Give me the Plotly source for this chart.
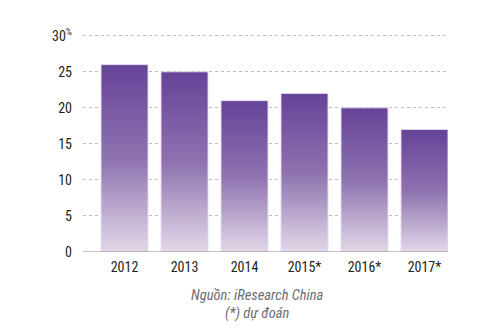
import plotly.graph_objects as go

years = ["2012", "2013", "2014", "2015*", "2016*", "2017*"]
values = [26, 25, 21, 22, 20, 17]
y_ticks = [0, 5, 10, 15, 20, 25, 30]
y_ticktext = ["0", "5", "10", "15", "20", "25", "30<sup>%</sup>"]

BAR_W = 0.783
TOP = "#654398"
BOTTOM = "#e2d8e8"
FONT = "Liberation Sans Narrow, Roboto Condensed, Arial Narrow, Roboto, sans-serif"

fig = go.Figure()
for i, v in enumerate(values):
    x0, x1 = i - BAR_W / 2, i + BAR_W / 2
    fig.add_trace(go.Scatter(
        x=[x0, x1, x1, x0, x0],
        y=[0, 0, v, v, 0],
        mode="lines",
        fill="toself",
        fillgradient=dict(type="vertical", colorscale=[[0, BOTTOM], [0.5, "#8e72b0"], [1, TOP]]),
        line=dict(color="rgba(230,220,238,0.9)", width=1),
        hoverinfo="skip",
        showlegend=False,
    ))

fig.update_layout(
    width=500, height=330,
    margin=dict(l=83, r=52, t=34, b=78),
    paper_bgcolor="white", plot_bgcolor="white",
    font=dict(family=FONT, size=14, color="#231f20"),
    xaxis=dict(
        range=[-0.692, 5.392],
        tickvals=list(range(len(years))), ticktext=years,
        showgrid=False, zeroline=False, showline=False,
        ticks="", ticklen=0, ticklabelstandoff=5,
        tickfont=dict(size=14, color="#231f20"),
    ),
    yaxis=dict(
        range=[0, 30.25],
        tickvals=y_ticks, ticktext=y_ticktext,
        showgrid=True, gridcolor="#bdbdbd", griddash="dot", gridwidth=1,
        zeroline=False, showline=False,
        ticks="", ticklabelstandoff=10,
        tickfont=dict(size=14, color="#231f20"),
    ),
    shapes=[dict(type="line", xref="paper", yref="y", x0=0, x1=1, y0=0, y1=0,
                 line=dict(color="#8c8c8c", width=1.2), layer="above")],
    annotations=[
        dict(text="<i>Nguồn: iResearch China</i>", xref="paper", yref="paper",
             x=0.479, y=-0.198, showarrow=False, xanchor="center", yanchor="middle",
             font=dict(size=14.5, color="#6d6e71")),
        dict(text="<i>(*) dự đoán</i>", xref="paper", yref="paper",
             x=0.479, y=-0.282, showarrow=False, xanchor="center", yanchor="middle",
             font=dict(size=14.5, color="#6d6e71")),
    ],
)

fig.write_html("out.html")
